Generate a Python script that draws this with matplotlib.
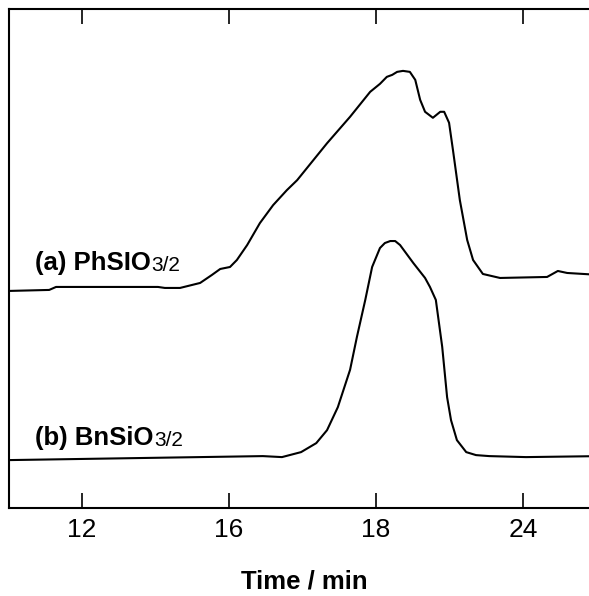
import numpy as np
import matplotlib
matplotlib.use('Agg')
import matplotlib.pyplot as plt

plt.rcParams['font.family'] = ['Liberation Sans', 'DejaVu Sans']

# GPC traces (elution time axis, intensity in arbitrary units, offset per sample)
time_a = [10.51, 11.33, 11.47, 13.55, 13.69, 14.00, 14.41, 14.65, 14.82, 15.02,
          15.16, 15.37, 15.63, 15.90, 16.18, 16.39, 17.00, 17.47, 17.88, 18.08,
          18.22, 18.33, 18.43, 18.55, 18.69, 18.80, 18.90, 19.00, 19.16, 19.31,
          19.39, 19.49, 19.57, 19.71, 19.86, 19.98, 20.18, 20.53, 21.49, 21.71,
          21.90, 22.57]
signal_a = [43.5, 43.7, 44.3, 44.3, 44.1, 44.1, 45.1, 46.7, 47.9, 48.3,
            49.7, 52.7, 57.1, 60.7, 63.7, 65.7, 73.1, 78.4, 83.4, 85.0,
            86.4, 86.8, 87.4, 87.6, 87.4, 85.8, 81.8, 79.4, 78.2, 79.4,
            79.4, 77.2, 71.7, 61.7, 53.7, 49.7, 46.9, 46.1, 46.3, 47.5,
            47.1, 46.7]

time_b = [10.51, 15.69, 16.08, 16.47, 16.78, 17.00, 17.22, 17.47, 17.61, 17.78,
          17.92, 18.08, 18.18, 18.29, 18.39, 18.49, 18.76, 19.00, 19.10, 19.22,
          19.35, 19.45, 19.53, 19.65, 19.84, 20.04, 20.31, 21.06, 22.57]
signal_b = [9.6, 10.4, 10.2, 11.2, 13.0, 15.6, 20.2, 27.7, 34.3, 41.7,
            48.3, 52.1, 53.1, 53.5, 53.5, 52.7, 49.1, 46.1, 44.3, 41.7,
            32.3, 22.2, 17.6, 13.6, 11.2, 10.6, 10.4, 10.2, 10.4]

tick_pos = [12, 15, 18, 21]
tick_labels = ['12', '16', '18', '24']

fig = plt.figure(figsize=(5.89, 5.96), dpi=100)
ax = fig.add_axes([9 / 589, 88 / 596, 591 / 589, 499 / 596])

ax.plot(time_a, signal_a, color='black', lw=1.5, solid_joinstyle='round')
ax.plot(time_b, signal_b, color='black', lw=1.5, solid_joinstyle='round')

ax.set_xlim(10.51, 22.57)
ax.set_ylim(0, 100)

for s in ax.spines.values():
    s.set_linewidth(1.5)

ax.set_xticks(tick_pos)
ax.set_xticklabels(tick_labels)
ax.set_yticks([])
ax.tick_params(axis='x', direction='in', length=11, width=1.2,
               top=True, labelsize=19, pad=7)

ax.set_xlabel('Time / min', fontsize=18.5, fontweight='bold', labelpad=20)

# sample labels with a smaller 3/2 after the formula
for x, y, name in [(11.04, 47.7, '(a) PhSIO'), (11.04, 12.6, '(b) BnSiO')]:
    t = ax.text(x, y, name, fontsize=18.5, fontweight='bold', va='baseline')
    ax.annotate('3/2', xy=(1, 0), xycoords=t, xytext=(0.5, 0),
                textcoords='offset points', fontsize=15, va='bottom')

fig.savefig('out.png', dpi=100)
